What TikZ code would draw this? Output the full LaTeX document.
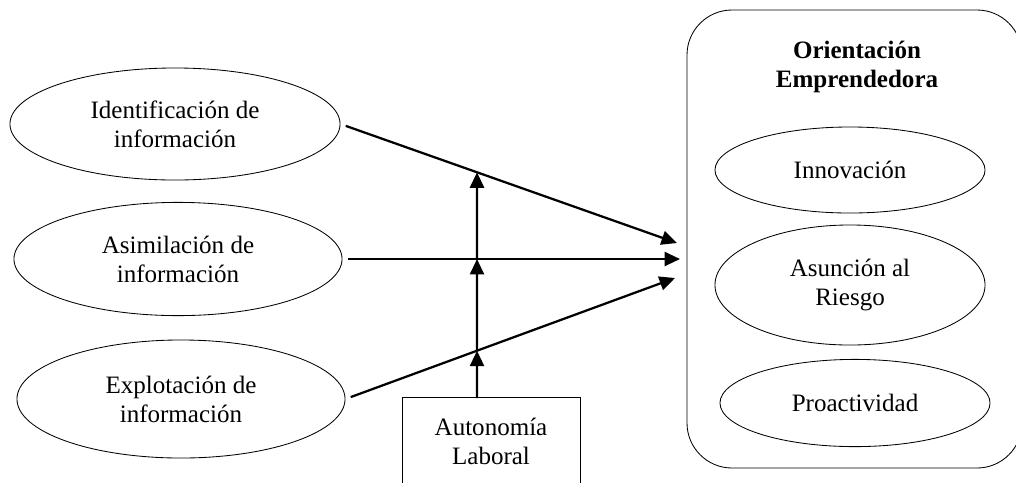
\documentclass[tikz,border=0pt]{standalone}
\usepackage{fontspec}
\setmainfont{Liberation Serif}
\usepackage{tikz}
\usetikzlibrary{shapes,arrows,arrows.meta,intersections}

\begin{document}
\begin{tikzpicture}[x=0.025cm,y=-0.025cm,
  font=\fontsize{17.8}{20.5}\selectfont,
  varell/.style={draw,ellipse,line width=0.6pt,align=center,inner sep=0pt},
  flecha/.style={line width=1.6pt,-{Triangle[length=11pt,width=10pt]}}]
 \useasboundingbox (0,0) rectangle (1016,482);

 % dimensiones de capacidad de absorcion
 \node [varell,minimum width=8.25cm,minimum height=2.8cm] (ident) at (175,124) {Identificación de\\información};
 \node [varell,minimum width=8.2cm,minimum height=2.83cm] (asim) at (178,259) {Asimilación de\\información};
 \node [varell,minimum width=8.2cm,minimum height=2.95cm] (explot) at (181,399) {Explotación de\\información};

 % orientacion emprendedora
 \draw [line width=0.6pt,rounded corners=1.125cm] (687,10) rectangle (1022,468);
 \node [font=\fontsize{17.8}{20.5}\selectfont\bfseries,align=center] (oe) at (857,67) {Orientación\\Emprendedora};
 \node [varell,minimum width=6.75cm,minimum height=2.15cm] (inno) at (850,170) {Innovación};
 \node [varell,minimum width=6.75cm,minimum height=3cm] (riesgo) at (850,285) {Asunción al\\Riesgo};
 \node [varell,minimum width=6.75cm,minimum height=2.18cm] (proact) at (855,403) {Proactividad};

 % moderadora
 \node [draw,line width=0.6pt,align=center,minimum width=4.45cm,minimum height=2.2cm] (auto) at (491,441) {Autonomía\\Laboral};

 \coordinate (tgtA) at (677,243);
 \coordinate (tgtB) at (680,259);
 \coordinate (tgtC) at (675,278);
 \coordinate (mod) at (477,398);

 \draw [flecha,name path=pa,shorten <=4pt] (ident.east) -- (tgtA);
 \draw [flecha,name path=pb,shorten <=4pt] (asim.east) -- (tgtB);
 \draw [flecha,name path=pc,shorten <=4pt] (explot.east) -- (tgtC);

 \path [name path=vline] (mod) -- (477,100);
 \path [name intersections={of=pa and vline,by=ia}];
 \path [name intersections={of=pb and vline,by=ib}];
 \path [name intersections={of=pc and vline,by=ic}];

 \draw [flecha] (mod) -- (ic);
 \draw [flecha] (ic) -- (ib);
 \draw [flecha] (ib) -- (ia);
\end{tikzpicture}
\end{document}
